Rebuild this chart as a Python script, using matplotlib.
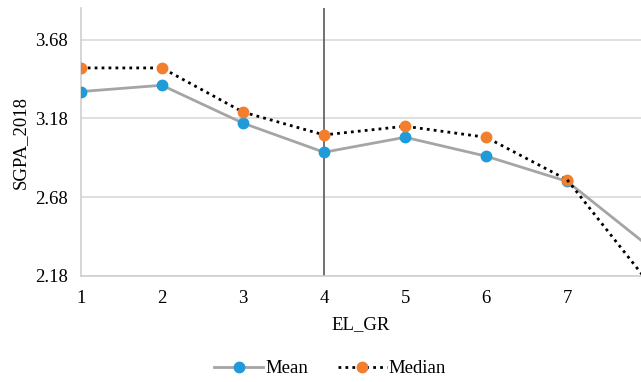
import matplotlib.pyplot as plt

plt.rcParams['font.family'] = ['Liberation Serif', 'DejaVu Serif']

el_gr = [1, 2, 3, 4, 5, 6, 7, 8]
mean_sgpa = [3.35, 3.39, 3.15, 2.965, 3.06, 2.94, 2.78, 2.37]
median_sgpa = [3.50, 3.50, 3.22, 3.075, 3.13, 3.06, 2.79, 2.14]
y_ticks = [2.18, 2.68, 3.18, 3.68]

blue = '#1F9BD9'
orange = '#F27F2E'
fs = 13.5

fig = plt.figure(figsize=(6.41, 3.82), dpi=100)
ax = fig.add_axes([0.126, 0.2775, 0.874, 0.7015])

ax.plot(el_gr[:7], mean_sgpa[:7], color='#A5A5A5', lw=2.0, marker='o',
        ms=7.5, mfc=blue, mec=blue, label='Mean', zorder=3)
ax.plot(el_gr[6:], mean_sgpa[6:], color='#A5A5A5', lw=2.0, zorder=3)
ax.plot(el_gr[:7], median_sgpa[:7], color='black', lw=2.0, ls=(0, (1, 1.5)),
        marker='o', ms=7.5, mfc=orange, mec=orange, label='Median', zorder=4)
ax.plot(el_gr[6:], median_sgpa[6:], color='black', lw=2.0, ls=(0, (1, 1.5)), zorder=4)

ax.axvline(4, color='#595959', lw=1.2, zorder=2)

ax.set_xlim(1, 7.91)
ax.set_ylim(2.18, 3.88)
ax.set_xticks(el_gr[:7])
ax.set_yticks(y_ticks)
ax.set_yticklabels([f'{v:.2f}' for v in y_ticks])
ax.grid(axis='y', color='#D9D9D9', lw=1.2)
ax.set_axisbelow(True)
for s in ['top', 'right']:
    ax.spines[s].set_visible(False)
for s in ['left', 'bottom']:
    ax.spines[s].set_color('#D0D0D0')
    ax.spines[s].set_linewidth(1.2)
ax.tick_params(axis='x', length=0, labelsize=fs, pad=10)
ax.tick_params(axis='y', length=0, labelsize=fs, pad=9)

ax.set_xlabel('EL_GR', fontsize=fs, labelpad=7)
ax.set_ylabel('SGPA_2018', fontsize=fs, labelpad=5)

fig.legend(loc='center', bbox_to_anchor=(0.515, 0.035), ncol=2, frameon=False,
           fontsize=fs, handlelength=2.6, handletextpad=0.1, columnspacing=1.6)

fig.savefig('out.png', dpi=100)
